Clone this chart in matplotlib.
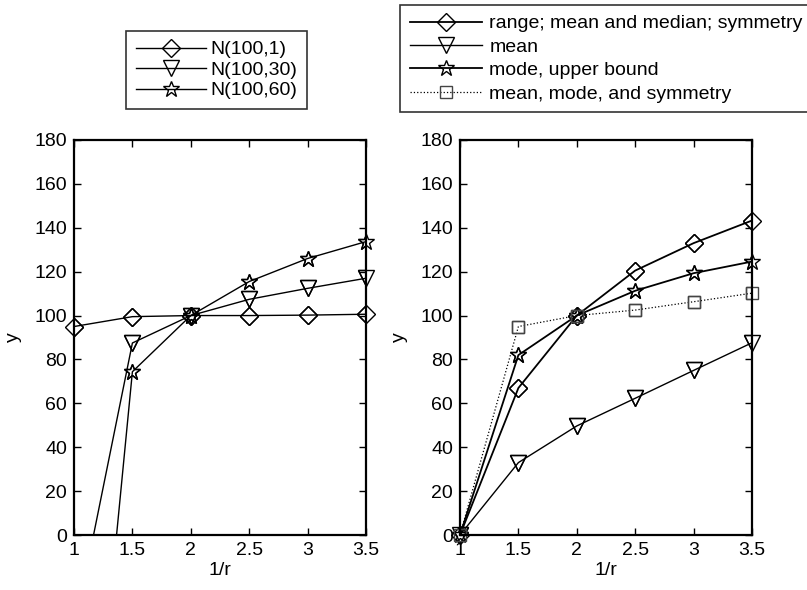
import matplotlib
matplotlib.use("Agg")
import matplotlib.pyplot as plt

plt.rcParams['font.family'] = ['Liberation Sans', 'DejaVu Sans']
plt.rcParams['font.size'] = 14

# ------------------------------------------------------------
# data
# ------------------------------------------------------------
x_vals = [1.0, 1.5, 2.0, 2.5, 3.0, 3.5]

# left panel
n1 = [95.0, 99.5, 100.0, 100.0, 100.2, 100.6]
n30 = [-44.0, 87.5, 100.0, 107.4, 112.4, 117.0]
n60 = [-200.0, 74.4, 100.0, 115.5, 126.0, 133.7]
left_labels = ["N(100,1)", "N(100,30)", "N(100,60)"]

# right panel
range_mm_sym = [0.0, 67.0, 100.0, 120.5, 133.0, 143.3]
mean_only = [0.0, 33.0, 49.7, 62.3, 75.0, 87.6]
mode_upper = [0.0, 82.0, 100.0, 111.3, 119.3, 124.6]
mean_mode_sym = [0.0, 95.0, 100.0, 102.5, 106.3, 110.2]
right_labels = ["range; mean and median; symmetry", "mean",
                "mode, upper bound", "mean, mode, and symmetry"]

x_ticks = [1, 1.5, 2, 2.5, 3, 3.5]
x_tick_labels = ["1", "1.5", "2", "2.5", "3", "3.5"]
y_ticks = list(range(0, 181, 20))

W, H = 807, 590
fig = plt.figure(figsize=(W / 100, H / 100), dpi=100)

ax1 = fig.add_axes([74 / W, 1 - 535 / H, 292 / W, 395 / H])
ax2 = fig.add_axes([460 / W, 1 - 535 / H, 292 / W, 395 / H])


def series(ax, ys, marker, ms, lw, ls="-", mec="black"):
    # line clipped to the axes, markers drawn again unclipped like MATLAB
    ln, = ax.plot(x_vals, ys, marker=marker, ms=ms, lw=lw, ls=ls,
                  color="black", mfc="none", mec=mec, mew=1.0)
    keep = [i for i, v in enumerate(ys) if 0 <= v <= 180]
    ax.plot([x_vals[i] for i in keep], [ys[i] for i in keep],
            ls="none", marker=marker, ms=ms, mfc="none", mec=mec,
            mew=1.0, clip_on=False)
    return ln


l1 = series(ax1, n1, "D", 9, 1.0)
l2 = series(ax1, n30, "v", 12, 1.0)
l3 = series(ax1, n60, "*", 12, 1.0)

r1 = series(ax2, range_mm_sym, "D", 9, 1.3)
r2 = series(ax2, mean_only, "v", 12, 1.0)
r3 = series(ax2, mode_upper, "*", 12, 1.3)
r4 = series(ax2, mean_mode_sym, "s", 9, 0.9, ls=":", mec="#444444")

for ax in (ax1, ax2):
    ax.set_xlim(1, 3.5)
    ax.set_ylim(0, 180)
    ax.set_xticks(x_ticks)
    ax.set_xticklabels(x_tick_labels)
    ax.set_yticks(y_ticks)
    ax.tick_params(direction="in", length=5, width=1.0,
                   top=True, right=True, labelsize=14, pad=5)
    for sp in ax.spines.values():
        sp.set_linewidth(1.6)
    ax.set_xlabel("1/r", labelpad=2)
    ax.set_ylabel("y", labelpad=9)

leg1 = fig.legend([l1, l2, l3], left_labels, loc="upper left",
                  bbox_to_anchor=(126 / W, 1 - 31 / H), frameon=True,
                  fancybox=False, edgecolor="black", fontsize=14,
                  handlelength=3.6, handletextpad=0.25, labelspacing=0.15,
                  borderpad=0.5, borderaxespad=0)
leg1.get_frame().set_linewidth(1.2)

leg2 = fig.legend([r1, r2, r3, r4], right_labels, loc="upper left",
                  bbox_to_anchor=(400 / W, 1 - 5 / H), frameon=True,
                  fancybox=False, edgecolor="black", fontsize=14,
                  handlelength=3.7, handletextpad=0.4, labelspacing=0.3,
                  borderpad=0.5, borderaxespad=0)
leg2.get_frame().set_linewidth(1.2)

fig.savefig("out.png", dpi=100)
